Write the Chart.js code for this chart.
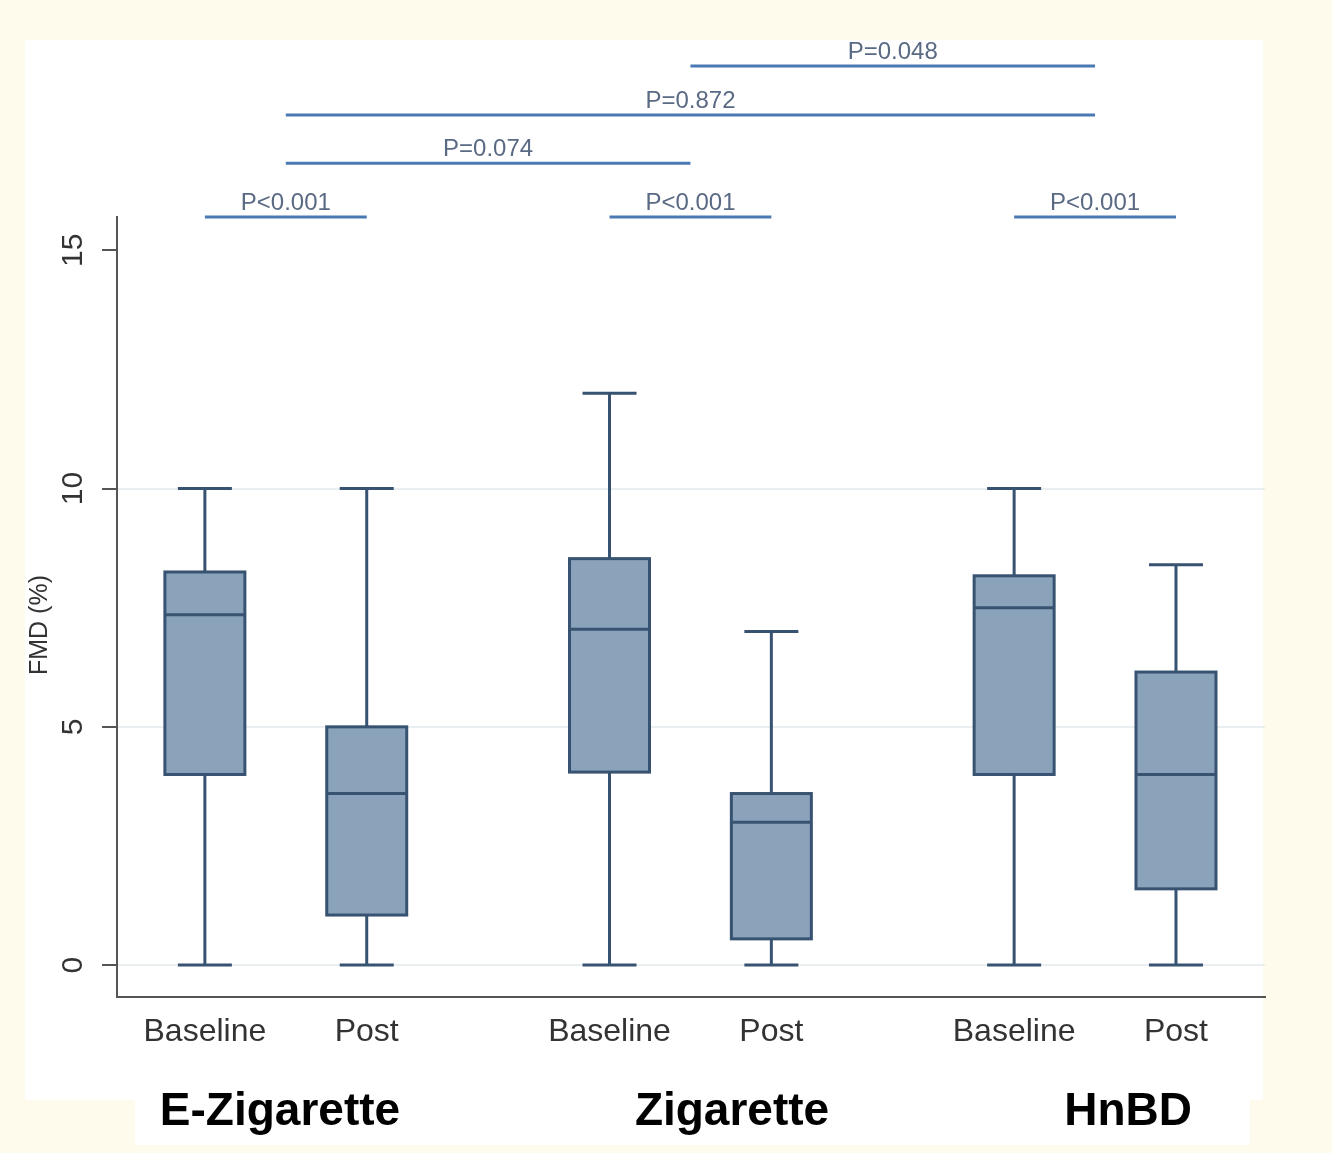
<!DOCTYPE html>
<html>
<head>
<meta charset="utf-8">
<script src="https://cdn.jsdelivr.net/npm/chart.js@4/dist/chart.umd.min.js"></script>
<style>
  html, body { margin: 0; padding: 0; background: #fefbec; }
  #wrap { width: 1332px; height: 1153px; position: relative; }
</style>
</head>
<body>
<div id="wrap"><canvas id="c" width="1332" height="1153"></canvas></div>
<script>
// ---- data ----
const categories = ['Baseline', 'Post', 'Baseline', 'Post', 'Baseline', 'Post'];
const groups = ['E-Zigarette', 'Zigarette', 'HnBD'];
const xPositions = [1, 2, 3.5, 4.5, 6, 7];
const whiskerLow = [0, 0, 0, 0, 0, 0];
const q1 = [4.0, 1.05, 4.05, 0.55, 4.0, 1.6];
const median = [7.35, 3.6, 7.05, 3.0, 7.5, 4.0];
const q3 = [8.25, 5.0, 8.53, 3.6, 8.17, 6.15];
const whiskerHigh = [10, 10, 12, 7.0, 10, 8.4];
const yTicks = [0, 5, 10, 15];
const yTitle = 'FMD (%)';

// significance brackets
const pLabels = ['P<0.001', 'P<0.001', 'P<0.001', 'P=0.074', 'P=0.872', 'P=0.048'];
const pFrom = [1, 3.5, 6, 1.5, 1.5, 4];
const pTo = [2, 4.5, 7, 4, 6.5, 6.5];
const pLevel = [15.7, 15.7, 15.7, 16.83, 17.84, 18.87];

// group label anchor (x in axis units)
const groupLabelX = [1.464, 4.257, 6.704];

// ---- styles ----
const BOX_FILL = '#8ba2bb';
const BOX_LINE = '#375371';
const AXIS = '#555555';
const TEXT = '#333333';

const bgPlugin = {
  id: 'bg',
  beforeDraw(chart) {
    const ctx = chart.ctx;
    ctx.save();
    ctx.fillStyle = '#fefbec';
    ctx.fillRect(0, 0, chart.width, chart.height);
    ctx.fillStyle = '#ffffff';
    ctx.fillRect(25, 40, 1238, 1060);
    ctx.fillRect(135, 1100, 1115, 45);
    ctx.restore();
  }
};

const boxPlugin = {
  id: 'boxes',
  afterDatasetsDraw(chart) {
    const ctx = chart.ctx;
    const xs = chart.scales.x, ys = chart.scales.y;
    const halfBox = 40, halfCap = 27;
    ctx.save();
    ctx.lineWidth = 3;
    ctx.strokeStyle = BOX_LINE;
    ctx.lineCap = 'butt';
    for (let i = 0; i < xPositions.length; i++) {
      const cx = xs.getPixelForValue(xPositions[i]);
      const yMin = ys.getPixelForValue(whiskerLow[i]);
      const yQ1 = ys.getPixelForValue(q1[i]);
      const yMed = ys.getPixelForValue(median[i]);
      const yQ3 = ys.getPixelForValue(q3[i]);
      const yMax = ys.getPixelForValue(whiskerHigh[i]);
      // whiskers
      ctx.beginPath();
      ctx.moveTo(cx, yQ3); ctx.lineTo(cx, yMax);
      ctx.moveTo(cx - halfCap, yMax); ctx.lineTo(cx + halfCap, yMax);
      ctx.moveTo(cx, yQ1); ctx.lineTo(cx, yMin);
      ctx.moveTo(cx - halfCap, yMin); ctx.lineTo(cx + halfCap, yMin);
      ctx.stroke();
      // box
      ctx.fillStyle = BOX_FILL;
      ctx.fillRect(cx - halfBox, yQ3, halfBox * 2, yQ1 - yQ3);
      ctx.strokeRect(cx - halfBox, yQ3, halfBox * 2, yQ1 - yQ3);
      // median
      ctx.beginPath();
      ctx.moveTo(cx - halfBox, yMed); ctx.lineTo(cx + halfBox, yMed);
      ctx.stroke();
    }
    ctx.restore();
  },
  afterDraw(chart) {
    const ctx = chart.ctx;
    const xs = chart.scales.x, ys = chart.scales.y;
    ctx.save();
    // y tick labels (rotated)
    ctx.fillStyle = TEXT;
    ctx.font = '30px "Liberation Sans", Arial, sans-serif';
    ctx.textAlign = 'center';
    ctx.textBaseline = 'middle';
    yTicks.forEach(v => {
      const py = ys.getPixelForValue(v);
      ctx.save();
      ctx.translate(74, py);
      ctx.rotate(-Math.PI / 2);
      ctx.fillText(String(v), 0, 0);
      ctx.restore();
    });
    // y title
    ctx.font = '25px "Liberation Sans", Arial, sans-serif';
    ctx.save();
    ctx.translate(40, 625);
    ctx.rotate(-Math.PI / 2);
    ctx.fillText(yTitle, 0, 0);
    ctx.restore();
    // significance brackets
    ctx.strokeStyle = '#4a79b4';
    ctx.lineWidth = 3;
    ctx.fillStyle = '#5a6a84';
    ctx.font = '24px "Liberation Sans", Arial, sans-serif';
    ctx.textBaseline = 'alphabetic';
    for (let i = 0; i < pLabels.length; i++) {
      const x1 = xs.getPixelForValue(pFrom[i]);
      const x2 = xs.getPixelForValue(pTo[i]);
      const py = ys.getPixelForValue(pLevel[i]);
      ctx.beginPath();
      ctx.moveTo(x1, py); ctx.lineTo(x2, py);
      ctx.stroke();
      ctx.fillText(pLabels[i], (x1 + x2) / 2, py - 7);
    }
    // group labels
    ctx.fillStyle = '#000000';
    ctx.font = 'bold 46px "Liberation Sans", Arial, sans-serif';
    groups.forEach((g, i) => {
      ctx.fillText(g, xs.getPixelForValue(groupLabelX[i]), 1125);
    });
    ctx.restore();
  }
};

new Chart(document.getElementById('c'), {
  type: 'scatter',
  data: {
    datasets: [{
      label: 'Median',
      data: xPositions.map((x, i) => ({ x: x, y: median[i] })),
      pointRadius: 0,
      pointHoverRadius: 0
    }]
  },
  options: {
    responsive: false,
    animation: false,
    events: [],
    layout: { padding: { top: 217, right: 67, bottom: 0, left: 0 } },
    plugins: { legend: { display: false }, tooltip: { enabled: false } },
    scales: {
      x: {
        type: 'linear',
        min: 0.457,
        max: 7.55,
        afterBuildTicks: s => { s.ticks = xPositions.map(v => ({ value: v })); },
        afterFit: s => { s.height = 156; },
        grid: { display: false },
        border: { display: true, color: AXIS, width: 2 },
        ticks: {
          autoSkip: false,
          maxRotation: 0,
          minRotation: 0,
          padding: 8,
          color: TEXT,
          font: { family: '"Liberation Sans", Arial, sans-serif', size: 32 },
          callback: (v) => {
            const idx = xPositions.indexOf(v);
            return idx >= 0 ? categories[idx] : '';
          }
        }
      },
      y: {
        type: 'linear',
        min: -0.67,
        max: 15.7,
        afterBuildTicks: s => { s.ticks = yTicks.map(v => ({ value: v })); },
        afterFit: s => { s.width = 117; },
        grid: {
          color: ctx => (ctx.tick && ctx.tick.value === 15) ? 'rgba(0,0,0,0)' : '#e9eef0',
          lineWidth: 2,
          drawTicks: true,
          tickLength: 15,
          tickColor: AXIS,
          tickWidth: 2
        },
        border: { display: true, color: AXIS, width: 2 },
        ticks: { display: false }
      }
    }
  },
  plugins: [bgPlugin, boxPlugin]
});
</script>
</body>
</html>
